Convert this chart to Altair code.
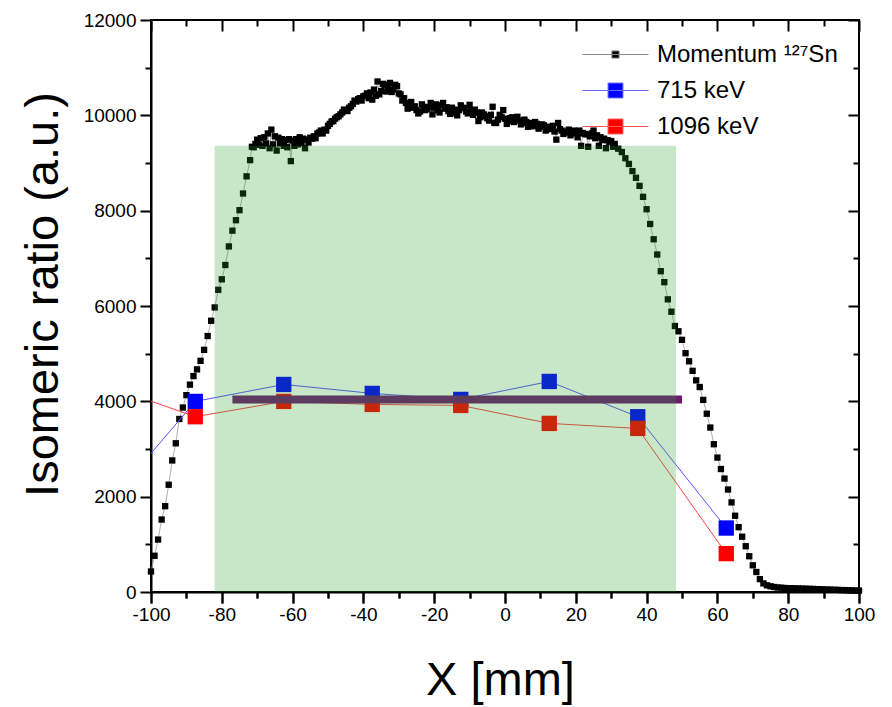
import altair as alt
import pandas as pd

# ---------------- data ----------------
# Momentum distribution of 127Sn, 1 mm grid
mom_x = [-100, -99, -98, -97, -96, -95, -94, -93, -92, -91,
         -90, -89, -88, -87, -86, -85, -84, -83, -82, -81,
         -80, -79, -78, -77, -76, -75, -74, -73, -72, -71,
         -70, -69, -68, -67, -66, -65, -64, -63, -62, -61,
         -60, -59, -58, -57, -56, -55, -54, -53, -52, -51,
         -50, -49, -48, -47, -46, -45, -44, -43, -42, -41,
         -40, -39, -38, -37, -36, -35, -34, -33, -32, -31,
         -30, -29, -28, -27, -26, -25, -24, -23, -22, -21,
         -20, -19, -18, -17, -16, -15, -14, -13, -12, -11,
         -10, -9, -8, -7, -6, -5, -4, -3, -2, -1,
         0, 1, 2, 3, 4, 5, 6, 7, 8, 9,
         10, 11, 12, 13, 14, 15, 16, 17, 18, 19,
         20, 21, 22, 23, 24, 25, 26, 27, 28, 29,
         30, 31, 32, 33, 34, 35, 36, 37, 38, 39,
         40, 41, 42, 43, 44, 45, 46, 47, 48, 49,
         50, 51, 52, 53, 54, 55, 56, 57, 58, 59,
         60, 61, 62, 63, 64, 65, 66, 67, 68, 69,
         70, 71, 72, 73, 74, 75, 76, 77, 78, 79,
         80, 81, 82, 83, 84, 85, 86, 87, 88, 89,
         90, 91, 92, 93, 94, 95, 96, 97, 98, 99,
         100]
mom_y = [430, 760, 1100, 1520, 1800, 2250, 2760, 3120, 3630, 3870,
         4130, 4350, 4530, 4670, 4850, 5080, 5370, 5690, 5970, 6340,
         6560, 6860, 7250, 7580, 7800, 8010, 8360, 8720, 9060, 9330,
         9490, 9520, 9540, 9620, 9700, 9560, 9530, 9500, 9480, 9500,
         9470, 9500, 9540, 9510, 9490, 9530, 9560, 9620, 9680, 9700,
         9780, 9870, 9930, 9980, 10060, 10110, 10160, 10240, 10290, 10360,
         10400, 10460, 10480, 10540, 10710, 10510, 10640, 10560, 10490, 10640,
         10460, 10310, 10260, 10210, 10160, 10110, 10080, 10180, 10140, 10260,
         10160, 10110, 10210, 10140, 10090, 10160, 10050, 10110, 10160, 10080,
         10220, 10010, 10060, 9960, 10020, 9940, 10010, 9840, 9910, 9960,
         9930, 9880, 9960, 9910, 9890, 9840, 9860, 9810, 9770, 9820,
         9760, 9790, 9740, 9710, 9660, 9840, 9680, 9640, 9700, 9660,
         9620, 9680, 9630, 9600, 9560, 9680, 9580, 9540, 9510, 9480,
         9460, 9400, 9300, 9230, 9100, 8980, 8830, 8690, 8520, 8290,
         8030, 7720, 7400, 7080, 6730, 6500, 6140, 5880, 5580, 5470,
         5290, 5010, 4840, 4640, 4440, 4300, 4030, 3740, 3450, 3100,
         2820, 2580, 2380, 2150, 1880, 1600, 1360, 1160, 960, 750,
         560, 420, 270, 180, 140, 120, 105, 95, 90, 85,
         80, 80, 75, 75, 70, 70, 65, 65, 60, 60,
         55, 50, 50, 45, 45, 40, 40, 35, 35, 30,
         30]
# extra (scattered) points on the plateau, half-mm positions
mom_x_half = [-71.5, -70.5, -69.5, -68.5, -67.5, -66.5, -65.5, -64.5, -63.5, -62.5,
              -61.5, -60.5, -59.5, -58.5, -57.5, -56.5, -55.5, -54.5, -53.5, -52.5,
              -51.5, -50.5, -49.5, -48.5, -47.5, -46.5, -45.5, -44.5, -43.5, -42.5,
              -41.5, -40.5, -39.5, -38.5, -37.5, -36.5, -35.5, -34.5, -33.5, -32.5,
              -31.5, -30.5, -29.5, -28.5, -27.5, -26.5, -25.5, -24.5, -23.5, -22.5,
              -21.5, -20.5, -19.5, -18.5, -17.5, -16.5, -15.5, -14.5, -13.5, -12.5,
              -11.5, -10.5, -9.5, -8.5, -7.5, -6.5, -5.5, -4.5, -3.5, -2.5,
              -1.5, -0.5, 0.5, 1.5, 2.5, 3.5, 4.5, 5.5, 6.5, 7.5,
              8.5, 9.5, 10.5, 11.5, 12.5, 13.5, 14.5, 15.5, 16.5, 17.5,
              18.5, 19.5, 20.5, 21.5, 22.5, 23.5, 24.5, 25.5, 26.5, 27.5,
              28.5, 29.5, 30.5]
mom_y_half = [9340, 9400, 9380, 9360, 9410, 9310, 9390, 9260, 9410, 9360,
              9330, 9040, 9360, 9390, 9420, 9310, 9430, 9510, 9520, 9640,
              9620, 9680, 9820, 9880, 9960, 10020, 10120, 10090, 10190, 10310,
              10340, 10310, 10410, 10360, 10330, 10410, 10440, 10660, 10500, 10680,
              10540, 10610, 10440, 10360, 10140, 10280, 10190, 10040, 10230, 10110,
              10170, 10020, 10230, 10060, 10260, 10170, 10030, 10120, 10000, 10210,
              10150, 10040, 10090, 10120, 9880, 10060, 9980, 9890, 10180, 9840,
              10010, 10110, 9820, 9940, 9860, 9970, 9810, 9910, 9760, 9840,
              9860, 9720, 9810, 9680, 9760, 9780, 9490, 9710, 9610, 9660,
              9580, 9680, 9540, 9360, 9610, 9340, 9620, 9520, 9360, 9480,
              9310, 9440, 9340]

# isomeric ratio at detector positions (first point lies outside the axis range)
pos_x = [-112.5, -87.5, -62.5, -37.5, -12.5, 12.5, 37.5, 62.5]
kev715 = [1818, 3998, 4354, 4166, 4040, 4417, 3677, 1342]
kev1096 = [4331, 3677, 3998, 3935, 3914, 3537, 3432, 805]

# shaded acceptance window and mean level bar
band_x = [-82.0]
band_x2 = [48.3]
band_lo = [0]
band_hi = [9360]
bar_x = [-77.0]
bar_x2 = [50.0]
bar_y = [4040]

series = ["Momentum \u00b9\u00b2\u2077Sn", "715 keV", "1096 keV"]
x_major = [-100, -80, -60, -40, -20, 0, 20, 40, 60, 80, 100]
x_minor = [-90, -70, -50, -30, -10, 10, 30, 50, 70, 90]
y_major = [0, 2000, 4000, 6000, 8000, 10000, 12000]
y_minor = [1000, 3000, 5000, 7000, 9000, 11000]

# ---------------- tables ----------------
mom = pd.concat([pd.DataFrame({"x": mom_x, "y": mom_y}),
                 pd.DataFrame({"x": mom_x_half, "y": mom_y_half})]
                ).sort_values("x").reset_index(drop=True)
iso = pd.DataFrame({"x": pos_x, "k715": kev715, "k1096": kev1096})
band = pd.DataFrame({"x": band_x, "x2": band_x2, "y": band_lo, "y2": band_hi})
bar = pd.DataFrame({"x": bar_x, "x2": bar_x2, "y": bar_y})
leg = pd.DataFrame({"series": series})

FONT = "Liberation Sans, Arial, DejaVu Sans"
W, H = 708, 572
xs = alt.Scale(domain=[-100, 100], nice=False, zero=False)
ys = alt.Scale(domain=[0, 12000], nice=False, zero=False)

x_axis_main = alt.Axis(
    orient="bottom", values=x_major, title="X [mm]",
    labelExpr="'' + datum.value", labelFlush=False,
    tickSize=11, tickColor="black", tickWidth=2, grid=False,
    domainColor="black", domainWidth=2,
    labelFontSize=19, labelPadding=2, labelFont=FONT, labelColor="black",
    titleFont=FONT, titleFontSize=47, titleFontWeight="normal", titleColor="black",
    titleX=349, titleY=102, titleBaseline="alphabetic", titleAlign="center",
)
y_axis_main = alt.Axis(
    orient="left", values=y_major, title="Isomeric ratio (a.u.)",
    labelExpr="'' + datum.value", labelFlush=False,
    tickSize=11, tickColor="black", tickWidth=2, grid=False,
    domainColor="black", domainWidth=2,
    labelFontSize=19, labelPadding=4, labelFont=FONT, labelColor="black",
    titleFont=FONT, titleFontSize=47, titleFontWeight="normal", titleColor="black",
    titleX=-94, titleY=274, titleBaseline="alphabetic", titleAlign="center",
    titleAngle=270,
)

def plain(orient, vals, size):
    # outward minor ticks, no labels
    return alt.Axis(orient=orient, values=vals, tickSize=size, tickColor="black",
                    tickWidth=2, labels=False, domain=False, title=None, grid=False)

def inner(orient, vals, size):
    # ticks pointing into the plot from the frame
    return alt.Axis(orient=orient, values=vals, tickSize=size, offset=-size,
                    tickColor="black", tickWidth=2,
                    labels=False, domain=False, title=None, grid=False)

def below(vals, size):
    # tick marks hanging below the bottom frame (top-oriented axis moved down)
    return alt.Axis(orient="top", values=vals, tickSize=size, offset=-(H + size),
                    tickColor="black", tickWidth=2,
                    labels=False, domain=False, title=None, grid=False)

mom_line = alt.Chart(mom).mark_line(color="#9a9a9a", strokeWidth=0.8).encode(
    x=alt.X("x:Q", scale=xs, axis=x_axis_main),
    y=alt.Y("y:Q", scale=ys, axis=y_axis_main),
)
mom_pts = alt.Chart(mom).mark_square(size=40, color="black", opacity=1).encode(
    x=alt.X("x:Q", scale=xs, axis=plain("bottom", x_minor, 6)),
    y=alt.Y("y:Q", scale=ys, axis=plain("left", y_minor, 6)),
)
blue_line = alt.Chart(iso).mark_line(color="#5555ff", strokeWidth=1, clip=True).encode(
    x=alt.X("x:Q", scale=xs, axis=below(x_major, 11)),
    y=alt.Y("k715:Q", scale=ys, axis=None),
)
red_line = alt.Chart(iso).mark_line(color="#ff4444", strokeWidth=1, clip=True).encode(
    x=alt.X("x:Q", scale=xs, axis=below(x_minor, 6)),
    y=alt.Y("k1096:Q", scale=ys, axis=None),
)
blue_pts = alt.Chart(iso).mark_square(size=235, color="#0000ff", opacity=1, clip=True).encode(
    x=alt.X("x:Q", scale=xs, axis=inner("top", x_major, 11)),
    y=alt.Y("k715:Q", scale=ys, axis=inner("right", y_major, 11)),
)
red_pts = alt.Chart(iso).mark_square(size=235, color="#ff0000", opacity=1, clip=True).encode(
    x=alt.X("x:Q", scale=xs, axis=inner("top", x_minor, 6)),
    y=alt.Y("k1096:Q", scale=ys, axis=inner("right", y_minor, 6)),
)
bar_rule = alt.Chart(bar).mark_rule(color="#6e1a73", strokeWidth=8).encode(
    x=alt.X("x:Q", scale=xs, axis=None),
    x2="x2:Q",
    y=alt.Y("y:Q", scale=ys, axis=None),
)
band_rect = alt.Chart(band).mark_rect(color="#279d27", opacity=0.255).encode(
    x=alt.X("x:Q", scale=xs, axis=None),
    x2="x2:Q",
    y=alt.Y("y:Q", scale=ys, axis=None),
    y2="y2:Q",
)

p_mom = "M-2.75,0H2.75M-0.3,-0.3H0.3V0.3H-0.3Z"
p_big = "M-2.75,0H2.75M-0.62,-0.62H0.62V0.62H-0.62Z"
lg = alt.Legend(orient="none", legendX=452, legendY=22, title=None,
                labelFont=FONT, labelFontSize=24, labelColor="black",
                labelLimit=400, labelOffset=29, symbolSize=576, rowPadding=11,
                padding=0, symbolStrokeWidth=1, symbolOpacity=1)
legend_layer = alt.Chart(leg).mark_point(filled=True, opacity=1).encode(
    fill=alt.Fill("series:N", scale=alt.Scale(domain=series, range=["black", "#0000ff", "#ff0000"]), legend=lg),
    stroke=alt.Stroke("series:N", scale=alt.Scale(domain=series, range=["#8a8a8a", "#6666ff", "#ff5555"]), legend=lg),
    shape=alt.Shape("series:N", scale=alt.Scale(domain=series, range=[p_mom, p_big, p_big]), legend=lg),
).transform_filter("false")

chart = alt.layer(
    mom_line, mom_pts, blue_line, red_line, blue_pts, red_pts, bar_rule, band_rect, legend_layer
).resolve_axis(x="independent", y="independent").properties(
    width=W, height=H,
    autosize=alt.AutoSizeParams(type="none"),
    padding={"left": 151, "top": 20, "right": 33, "bottom": 115},
).configure_view(stroke="black", strokeWidth=2)

chart.save("out.html", embed_options={"renderer": "svg", "actions": False})
